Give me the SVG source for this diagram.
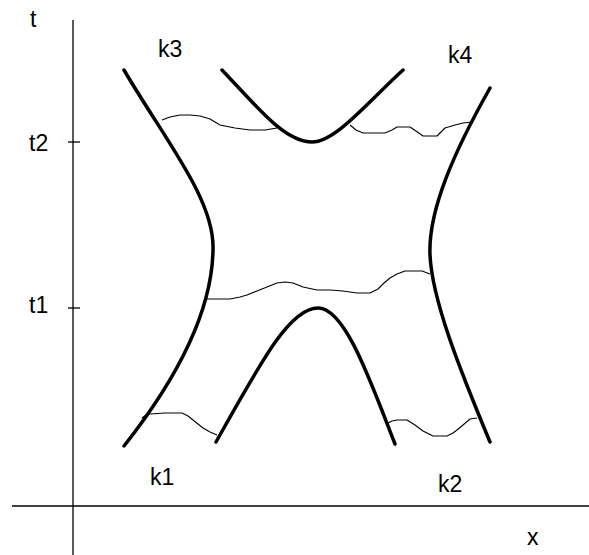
<svg xmlns="http://www.w3.org/2000/svg" width="589" height="555" viewBox="0 0 589 555">
<style>
.ax{stroke:#000;stroke-width:1.3;fill:none}
.thick{stroke:#000;stroke-width:3.5;fill:none;stroke-linecap:round;stroke-linejoin:round}
.thin{stroke:#000;stroke-width:1.1;fill:none;stroke-linejoin:round}
text{font-family:"Liberation Sans",Arial,sans-serif;font-size:23px;fill:#000}
</style>
<rect width="589" height="555" fill="#fff"/>
<g id="axes">
<line class="ax" x1="73" y1="20" x2="73" y2="555"/>
<line class="ax" x1="12" y1="506" x2="589" y2="506"/>
<line class="ax" x1="68" y1="142" x2="80" y2="142"/>
<line class="ax" x1="68" y1="308" x2="80" y2="308"/>
<text x="30" y="27">t</text>
<text x="29" y="151">t2</text>
<text x="29" y="313">t1</text>
<text x="527" y="545">x</text>
</g>
<g id="curves">
<path class="thick" d="M124,70 C165,140 215,200 213,250 C212,310 180,375 124,446"/>
<path class="thick" d="M490,88 C455,150 428,210 430,255 C432,300 460,370 490,442"/>
<path class="thick" d="M222,70 C260,110 285,142 312,142 C335,142 365,105 403,70"/>
<path class="thick" d="M216,442 C262,360 290,308 318,308 C345,308 370,380 395,444"/>
</g>
<g id="waves">
<polyline class="thin" points="162,120 170,117 180,115 190,115 200,116 210,119 220,125 235,128 250,130 265,130 277,128"/>
<polyline class="thin" points="350,125 356,130 363,133 375,133 385,133 392,130 397,127 405,127 410,127 416,131 423,136 430,136 437,136 441,132 445,128 455,125 463,123 472,122"/>
<polyline class="thin" points="205,299 218,299 230,299 240,297 247,295 257,291 267,287 277,283 285,282 293,283 303,287 317,290 330,290 343,291 357,293 370,293 378,289 384,283 390,278 397,274 405,271 414,271 422,271 430,274"/>
<polyline class="thin" points="142,418 146,415 150,414 165,413 182,413 188,416 193,420 203,428 210,432 217,435"/>
<polyline class="thin" points="388,423 392,421 397,420 407,420 415,425 423,431 433,436 447,436 453,433 457,430 463,425 470,419 477,418"/>
</g>
<g id="labels">
<text x="158" y="57">k3</text>
<text x="448" y="63">k4</text>
<text x="150" y="485">k1</text>
<text x="438" y="492">k2</text>
</g>
</svg>
